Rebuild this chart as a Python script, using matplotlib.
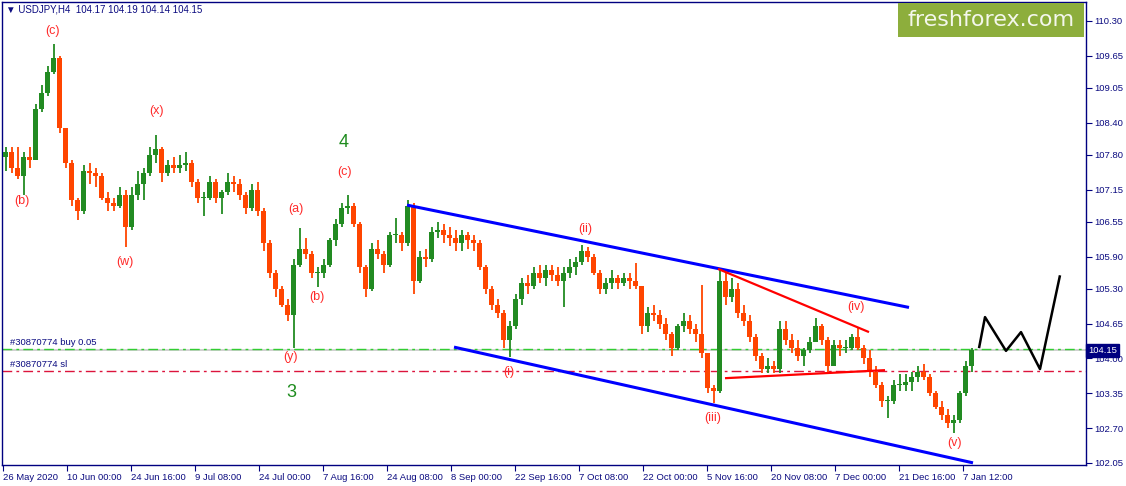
import numpy as np
import matplotlib.pyplot as plt
from matplotlib.patches import Rectangle
from matplotlib.transforms import blended_transform_factory

# USDJPY H4 chart, one candle per trading day (6 x H4 bars)
first_open = 107.75
highs = [107.95, 107.95, 107.95, 107.85, 107.95, 108.75, 109.1, 109.45, 109.87, 109.65,
         108.3, 107.7, 107.0, 107.6, 107.65, 107.55, 107.45, 107.1, 107.0, 107.2,
         107.15, 107.2, 107.5, 107.55, 107.95, 108.16, 107.95, 107.7, 107.75, 107.8,
         107.85, 107.7, 107.35, 107.1, 107.4, 107.35, 107.15, 107.45, 107.4, 107.35,
         107.1, 107.25, 107.3, 106.8, 106.2, 105.65, 105.35, 105.1, 105.85, 106.43,
         106.25, 106.0, 105.7, 105.85, 106.25, 106.6, 106.9, 107.05, 106.9, 106.55,
         105.75, 106.15, 106.2, 106.0, 106.35, 106.62, 106.35, 106.95, 106.9, 106.0,
         106.05, 106.45, 106.55, 106.5, 106.45, 106.4, 106.4, 106.35, 106.3, 106.2,
         105.75, 105.35, 105.1, 104.9, 104.7, 105.2, 105.5, 105.55, 105.7, 105.75,
         105.75, 105.75, 105.7, 105.7, 105.85, 105.9, 106.11, 106.08, 105.95, 105.65,
         105.5, 105.65, 105.55, 105.6, 105.6, 105.78, 105.35, 104.95, 105.0, 104.9,
         104.75, 104.5, 104.65, 104.85, 104.8, 104.65, 105.37, 104.1, 103.5, 105.67,
         105.6, 105.5, 105.4, 105.0, 104.8, 104.45, 104.1, 104.0, 103.95, 104.7,
         104.7, 104.45, 104.35, 104.2, 104.4, 104.75, 104.65, 104.4, 104.35, 104.35,
         104.35, 104.45, 104.58, 104.25, 104.15, 103.85, 103.55, 103.3, 103.6, 103.7,
         103.7, 103.75, 103.85, 103.9, 103.7, 103.4, 103.2, 103.05, 102.95, 103.4,
         103.95, 104.19]
lows = [107.5, 107.45, 107.35, 107.05, 107.55, 107.75, 108.6, 108.9, 109.3, 108.2,
        107.55, 106.85, 106.58, 106.7, 107.25, 107.2, 106.95, 106.75, 106.75, 106.8,
        106.07, 106.4, 106.95, 106.95, 107.4, 107.65, 107.3, 107.4, 107.45, 107.45,
        107.5, 107.2, 106.9, 106.65, 106.95, 106.9, 106.7, 107.05, 107.1, 106.95,
        106.7, 106.75, 106.65, 106.0, 105.5, 105.15, 104.95, 104.7, 104.19, 105.7,
        105.85, 105.5, 105.33, 105.5, 105.7, 106.1, 106.45, 106.7, 106.45, 105.6,
        105.14, 105.25, 105.85, 105.6, 105.7, 106.15, 106.0, 106.1, 105.2, 105.4,
        105.7, 105.8, 106.25, 106.15, 106.1, 106.0, 106.0, 106.05, 106.0, 105.65,
        105.2, 104.9, 104.75, 104.2, 104.02, 104.55, 105.0, 105.2, 105.3, 105.4,
        105.35, 105.45, 105.35, 104.95, 105.5, 105.55, 105.75, 105.8, 105.55, 105.2,
        105.2, 105.3, 105.3, 105.35, 105.3, 105.3, 104.45, 104.5, 104.7, 104.55,
        104.35, 104.05, 104.15, 104.5, 104.45, 104.3, 104.0, 103.35, 103.17, 103.35,
        105.0, 105.05, 104.75, 104.6, 104.3, 103.95, 103.72, 103.72, 103.72, 103.72,
        104.25, 104.1, 103.95, 103.85, 104.1, 104.3, 104.25, 103.72, 103.85, 104.05,
        104.1, 104.15, 104.15, 103.9, 103.65, 103.45, 103.1, 102.89, 103.15, 103.4,
        103.4, 103.4, 103.55, 103.6, 103.3, 103.05, 102.85, 102.7, 102.6, 102.8,
        103.3, 103.75]
closes = [107.85, 107.55, 107.4, 107.75, 107.7, 108.65, 108.95, 109.35, 109.6, 108.3,
          107.65, 106.95, 106.75, 107.5, 107.45, 107.4, 107.0, 106.9, 106.85, 107.05,
          106.45, 107.05, 107.25, 107.45, 107.8, 107.9, 107.45, 107.6, 107.55, 107.6,
          107.65, 107.3, 107.0, 107.0, 107.3, 107.0, 107.1, 107.3, 107.25, 107.05,
          106.8, 107.15, 106.75, 106.15, 105.6, 105.3, 105.0, 104.8, 105.75, 106.05,
          105.95, 105.6, 105.6, 105.75, 106.2, 106.5, 106.8, 106.85, 106.5, 105.7,
          105.3, 106.05, 105.95, 105.75, 106.3, 106.3, 106.15, 106.85, 105.45, 105.9,
          105.85, 106.35, 106.4, 106.3, 106.25, 106.15, 106.3, 106.2, 106.15, 105.7,
          105.3, 105.0, 104.85, 104.35, 104.6, 105.1, 105.4, 105.35, 105.6, 105.5,
          105.65, 105.55, 105.45, 105.6, 105.7, 105.8, 106.0, 105.9, 105.6, 105.3,
          105.4, 105.5, 105.4, 105.5, 105.45, 105.35, 104.6, 104.85, 104.8, 104.65,
          104.45, 104.2, 104.6, 104.7, 104.55, 104.45, 104.1, 103.45, 103.4, 105.45,
          105.15, 105.3, 104.85, 104.7, 104.4, 104.05, 103.8, 103.85, 103.8, 104.55,
          104.35, 104.2, 104.05, 104.15, 104.3, 104.6, 104.35, 103.85, 104.25, 104.2,
          104.2, 104.4, 104.2, 104.0, 103.75, 103.5, 103.2, 103.2, 103.5, 103.5,
          103.55, 103.65, 103.75, 103.65, 103.35, 103.1, 102.95, 102.8, 102.85, 103.35,
          103.85, 104.15]

date_labels = ["26 May 2020", "10 Jun 00:00", "24 Jun 16:00", "9 Jul 08:00", "24 Jul 00:00",
               "7 Aug 16:00", "24 Aug 08:00", "8 Sep 00:00", "22 Sep 16:00", "7 Oct 08:00",
               "22 Oct 00:00", "5 Nov 16:00", "20 Nov 08:00", "7 Dec 00:00", "21 Dec 16:00",
               "7 Jan 12:00"]
price_ticks = [110.30, 109.65, 109.05, 108.40, 107.80, 107.15, 106.55, 105.90,
               105.30, 104.65, 104.00, 103.35, 102.70, 102.05]

# drawn objects (bar index, price)
channel_upper = [(404, 106.86), (906, 104.95)]
channel_lower = [(451, 104.21), (970, 102.05)]
triangle_upper = [(715, 105.67), (866, 104.49)]
triangle_lower = [(722, 103.63), (882, 103.78)]
forecast = [(976, 104.19), (982, 104.77), (1003, 104.14), (1018, 104.49), (1037, 103.80), (1057, 105.55)]
wave_labels = [("(c)", 49, 110.11), ("(b)", 19, 106.93), ("(w)", 122, 105.80), ("(x)", 154, 108.61),
               ("(a)", 293, 106.78), ("(b)", 314, 105.14), ("(y)", 288, 104.03), ("(c)", 341, 107.48),
               ("(ii)", 582, 106.41), ("(i)", 506, 103.75), ("(iii)", 710, 102.89),
               ("(iv)", 853, 104.96), ("(v)", 952, 102.42)]
degree_labels = [("4", 341, 108.02), ("3", 288, 103.37)]
buy_price = 104.17
bid_price = 104.15
sl_price = 103.76

navy = "#0B0B80"
up_col = "#228B22"
down_col = "#FF4500"

fig = plt.figure(figsize=(11.26, 4.86), dpi=100)
ax = fig.add_axes([2 / 1126, 21 / 486, 1084 / 1126, 463 / 486])
ax.set_xlim(-1, 1083)
ax.set_ylim(102.01, 110.65)

o = np.array([first_open] + closes[:-1])
c = np.array(closes)
h = np.maximum(np.array(highs), np.maximum(o, c))
l = np.minimum(np.array(lows), np.minimum(o, c))
xs = np.arange(len(c)) * 6 + 2.5
cols = [up_col if cc >= oo else down_col for oo, cc in zip(o, c)]

ax.vlines(xs, l, h, colors=cols, linewidth=1.3, zorder=3)
ax.bar(xs, np.maximum(np.abs(c - o), 0.02), bottom=np.minimum(o, c), width=4.8,
       color=cols, linewidth=0, zorder=3)

# order lines
ax.axhline(bid_price, color="#C8C8C8", linewidth=1.2, zorder=1)
ax.axhline(buy_price, color="#32CD32", linewidth=1.0, linestyle=(0, (7, 3, 2, 3)), zorder=2)
ax.axhline(sl_price, color="#DC143C", linewidth=1.0, linestyle=(0, (7, 3, 2, 3)), zorder=2)
ax.text(7, 104.30, "#30870774 buy 0.05", fontsize=6.8, color=navy, va="center",
        family="Liberation Sans")
ax.text(7, 103.89, "#30870774 sl", fontsize=6.8, color=navy, va="center",
        family="Liberation Sans")

# trend lines
for pts, col, lw in [(channel_upper, "#0000FF", 2.2), (channel_lower, "#0000FF", 2.2),
                     (triangle_upper, "#FF0000", 1.6), (triangle_lower, "#FF0000", 1.6),
                     (forecast, "black", 1.8)]:
    px, py = zip(*pts)
    ax.plot(px, py, color=col, linewidth=lw, zorder=4, solid_capstyle="butt")

for txt, x, y in wave_labels:
    ax.text(x, y, txt, fontsize=9, color="#FF2A2A", ha="center", va="center",
            family="Liberation Sans", zorder=5)
for txt, x, y in degree_labels:
    ax.text(x, y, txt, fontsize=13, color="#1E8C1E", ha="center", va="center",
            family="Liberation Sans", zorder=5)

# axes styling
for sp in ax.spines.values():
    sp.set_color("#000080")
    sp.set_linewidth(1.0)
ax.set_xticks(np.arange(len(date_labels)) * 64)
ax.set_xticklabels(date_labels, ha="left", fontsize=6.8, color=navy, family="Liberation Sans")
ax.set_yticks(price_ticks)
ax.set_yticklabels([f"{p:.2f}" for p in price_ticks], fontsize=6.8, color=navy,
                   family="Liberation Sans")
ax.tick_params(axis="x", direction="out", length=4, width=0.8, color="#000080", pad=2)
ax.tick_params(axis="y", direction="out", length=4, width=0.8, color="#000080", pad=2,
               left=False, labelleft=False, right=True, labelright=True)

# current price box
tr = blended_transform_factory(ax.transAxes, ax.transData)
ax.text(1.0 + 2 / 1084, bid_price, "104.15", transform=tr, fontsize=6.8, color="white",
        ha="left", va="center", family="Liberation Sans", clip_on=False, zorder=10,
        bbox=dict(boxstyle="square,pad=0.2", fc="#000080", ec="#000080"))

# header and logo
fig.text(6 / 1126, 1 - 10 / 486, "\u25bc USDJPY,H4  104.17 104.19 104.14 104.15", fontsize=7,
         color=navy, va="center", family=["Liberation Sans", "DejaVu Sans"])
fig.patches.append(Rectangle((898 / 1126, 1 - 37 / 486), 186 / 1126, 34 / 486,
                             transform=fig.transFigure, fc="#8DAE3C", ec="none"))
fig.text(991 / 1126, 1 - 20 / 486, "freshforex.com", fontsize=16, color="#F4F7EC",
         ha="center", va="center")

fig.savefig("out.png", dpi=100)
